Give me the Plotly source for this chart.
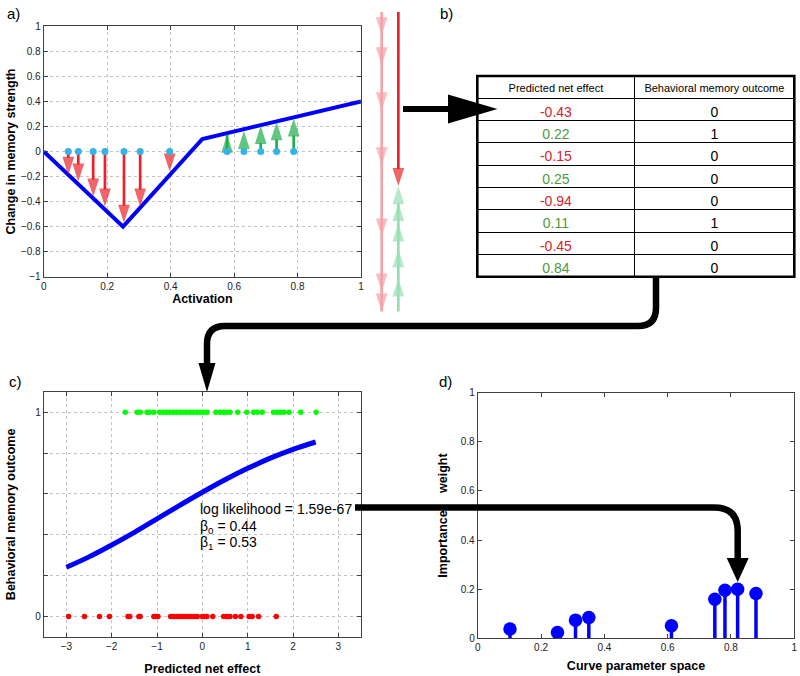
import plotly.graph_objects as go

W, H = 800, 676
FONT = "Liberation Sans, Arial, Helvetica, sans-serif"

# ---------------- Panel a data ----------------
curve_act = [0.0, 0.25, 0.5, 1.0]
curve_change = [0.0, -0.6, 0.1, 0.4]
neg_act = [0.0775, 0.109, 0.156, 0.193, 0.253, 0.304, 0.397]
neg_change = [-0.186, -0.24, -0.36, -0.44, -0.57, -0.44, -0.16]
pos_act = [0.578, 0.631, 0.684, 0.734, 0.788]
pos_change = [0.134, 0.165, 0.205, 0.235, 0.264]

# ---------------- Panel b table ----------------
table_net = [-0.43, 0.22, -0.15, 0.25, -0.94, 0.11, -0.45, 0.84]
table_outcome = [0, 1, 0, 0, 0, 1, 0, 0]
table_header = ["Predicted net effect", "Behavioral memory outcome"]

# ---------------- Panel c data ----------------
remembered_x = [-1.70, -1.44, -1.37, -1.22, -1.17, -1.07, -0.94, -0.86, -0.79, -0.72,
                -0.64, -0.57, -0.49, -0.42, -0.35, -0.27, -0.20, -0.12, -0.05, 0.02,
                0.10, 0.30, 0.39, 0.47, 0.54, 0.61, 0.78, 0.98, 1.13, 1.21,
                1.32, 1.57, 1.65, 1.72, 1.80, 1.91, 2.17, 2.51]
forgotten_x = [-2.95, -2.60, -2.27, -2.05, -1.64, -1.60, -1.40, -1.37, -1.07, -1.03,
               -0.98, -0.70, -0.64, -0.58, -0.52, -0.47, -0.41, -0.35, -0.29, -0.23,
               -0.17, -0.11, 0.0, 0.04, 0.10, 0.23, 0.47, 0.54, 0.61, 0.73,
               0.85, 1.03, 1.10, 1.24, 1.63]
fit_x = [-3.0, -2.5, -2.0, -1.5, -1.0, -0.5, 0.0, 0.5, 1.0, 1.5, 2.0, 2.5]
fit_y = [0.241, 0.292, 0.350, 0.412, 0.478, 0.544, 0.608, 0.669, 0.725, 0.775, 0.818, 0.854]
fit_text = ["log likelihood = 1.59e-67", "β<sub>0</sub> = 0.44", "β<sub>1</sub> = 0.53"]

# ---------------- Panel d data ----------------
param_x = [0.102, 0.252, 0.309, 0.351, 0.612, 0.749, 0.781, 0.821, 0.879]
weights = [0.038, 0.024, 0.074, 0.085, 0.051, 0.159, 0.196, 0.200, 0.182]

# colours
BLUE = "#0000ff"
RED = "#e8232b"
GREEN = "#1fae4b"
CYAN = "#34b3e6"
PINK = "#f5a3a8"
LGREEN = "#96dfb3"
TRED = "#d8232a"
TGREEN = "#4e9a3c"


def px(x):
    return x / W


def py(y):
    return 1 - y / H


def arrows(xs, starts, ends, head=19):
    X, Y, S, Z = [], [], [], []
    for x, a, b in zip(xs, starts, ends):
        X += [x, x, None]
        Y += [a, b, None]
        S += ["circle", "arrow", "circle"]
        Z += [0, head, 0]
    return X, Y, S, Z


fig = go.Figure()

# ---- panel a ----
fig.add_trace(go.Scatter(x=curve_act, y=curve_change, mode="lines",
                         line=dict(color=BLUE, width=4), xaxis="x", yaxis="y",
                         showlegend=False, hoverinfo="skip"))
X, Y, S, Z = arrows(neg_act, [0] * len(neg_act), neg_change)
fig.add_trace(go.Scatter(x=X, y=Y, mode="lines+markers",
                         line=dict(color=RED, width=2.7),
                         marker=dict(symbol=S, size=Z, color=RED, angleref="previous",
                                     line=dict(width=0)),
                         xaxis="x", yaxis="y", showlegend=False, hoverinfo="skip"))
X, Y, S, Z = arrows(pos_act, [0] * len(pos_act), pos_change)
fig.add_trace(go.Scatter(x=X, y=Y, mode="lines+markers",
                         line=dict(color=GREEN, width=2.7),
                         marker=dict(symbol=S, size=Z, color=GREEN, angleref="previous",
                                     line=dict(width=0)),
                         xaxis="x", yaxis="y", showlegend=False, hoverinfo="skip"))
fig.add_trace(go.Scatter(x=neg_act + pos_act, y=[0] * (len(neg_act) + len(pos_act)),
                         mode="markers", marker=dict(color=CYAN, size=7),
                         xaxis="x", yaxis="y", showlegend=False, hoverinfo="skip"))

# ---- stacked column (sum of changes) ----
neg_mag = [-v for v in neg_change]
pos_mag = [v for v in pos_change]
cum = [0.0]
for v in neg_mag:
    cum.append(cum[-1] - v)
total_neg = sum(neg_mag)
total_pos = sum(pos_mag)
fig.add_trace(go.Scatter(x=[0] * len(cum), y=cum, mode="lines+markers",
                         line=dict(color=PINK, width=2.7),
                         marker=dict(symbol=["circle"] + ["arrow"] * len(neg_mag),
                                     size=[0] + [19] * len(neg_mag), color=PINK,
                                     angleref="previous", line=dict(width=0)),
                         xaxis="x2", yaxis="y2", showlegend=False, hoverinfo="skip"))
gcum = [-total_neg]
for v in sorted(pos_mag, reverse=True):
    gcum.append(gcum[-1] + v)
fig.add_trace(go.Scatter(x=[1] * len(gcum), y=gcum, mode="lines+markers",
                         line=dict(color=LGREEN, width=2.7),
                         marker=dict(symbol=["circle"] + ["arrow"] * len(pos_mag),
                                     size=[0] + [19] * len(pos_mag), color=LGREEN,
                                     angleref="previous", line=dict(width=0)),
                         xaxis="x2", yaxis="y2", showlegend=False, hoverinfo="skip"))
fig.add_trace(go.Scatter(x=[1, 1], y=[0, -(total_neg - total_pos)], mode="lines+markers",
                         line=dict(color=RED, width=2.7),
                         marker=dict(symbol=["circle", "arrow"], size=[0, 19], color=RED,
                                     angleref="previous", line=dict(width=0)),
                         xaxis="x2", yaxis="y2", showlegend=False, hoverinfo="skip"))

# ---- table ----
net_txt = [f"{v:.2f}" for v in table_net]
net_col = [TRED if v < 0 else TGREEN for v in table_net]
fig.add_trace(go.Table(
    domain=dict(x=[px(477.3), px(794.3)], y=[py(279), py(76)]),
    columnwidth=[157.7, 160.3],
    header=dict(values=table_header, height=22.3, align="center",
                font=dict(family=FONT, size=11, color="black"),
                fill=dict(color="white"), line=dict(color="black", width=1)),
    cells=dict(values=[net_txt, [str(v) for v in table_outcome]], height=22.3,
               align="center",
               font=dict(family=FONT, size=14, color=[net_col, ["black"] * len(table_outcome)]),
               fill=dict(color="white"), line=dict(color="black", width=1)),
))

# ---- panel c ----
fig.add_trace(go.Scatter(x=remembered_x, y=[1] * len(remembered_x), mode="markers",
                         marker=dict(color="#00ff00", size=5.5),
                         xaxis="x3", yaxis="y3", showlegend=False, hoverinfo="skip"))
fig.add_trace(go.Scatter(x=forgotten_x, y=[0] * len(forgotten_x), mode="markers",
                         marker=dict(color="#ff0000", size=5.5),
                         xaxis="x3", yaxis="y3", showlegend=False, hoverinfo="skip"))
fig.add_trace(go.Scatter(x=fit_x, y=fit_y, mode="lines",
                         line=dict(color=BLUE, width=5, shape="spline"),
                         xaxis="x3", yaxis="y3", showlegend=False, hoverinfo="skip"))

# ---- panel d ----
sx, sy = [], []
for x, w in zip(param_x, weights):
    sx += [x, x, None]
    sy += [0, w, None]
fig.add_trace(go.Scatter(x=sx, y=sy, mode="lines", line=dict(color=BLUE, width=3.5),
                         xaxis="x4", yaxis="y4", showlegend=False, hoverinfo="skip"))
fig.add_trace(go.Scatter(x=param_x, y=weights, mode="markers",
                         marker=dict(color=BLUE, size=13.5),
                         xaxis="x4", yaxis="y4", showlegend=False, hoverinfo="skip"))

AX = "#404040"
base = dict(showline=True, linecolor=AX, linewidth=1, mirror="allticks", ticks="inside",
            ticklen=4, tickcolor=AX, tickfont=dict(family=FONT, size=10, color="#222"),
            zeroline=False, gridcolor="#c4c4c4", griddash="dot", gridwidth=1, fixedrange=True,
            automargin=False)
TF = dict(family=FONT, size=12.5, color="black")

fig.update_layout(
    width=W, height=H, margin=dict(l=0, r=0, t=0, b=0, autoexpand=False),
    paper_bgcolor="white", plot_bgcolor="white",
    font=dict(family=FONT, color="black"),
    xaxis=dict(base, domain=[px(43.7), px(361)], range=[0, 1], dtick=0.2, showgrid=True,
               anchor="y", title=dict(text="<b>Activation</b>", font=TF, standoff=3)),
    yaxis=dict(base, domain=[py(276.7), py(26.3)], range=[-1, 1], dtick=0.2, showgrid=True,
               anchor="x", title=dict(text="<b>Change in memory strength</b>", font=TF, standoff=2)),
    xaxis2=dict(domain=[px(370), px(410)], range=[-0.7, 1.7], visible=False, anchor="y2",
                fixedrange=True, automargin=False),
    yaxis2=dict(domain=[py(320), py(8)], range=[-2.464, 0.032], visible=False, anchor="x2",
                fixedrange=True, automargin=False),
    xaxis3=dict(base, domain=[px(43.7), px(361)], range=[-3.5, 3.5], dtick=1, showgrid=True,
                anchor="y3", title=dict(text="<b>Predicted net effect</b>", font=TF, standoff=13)),
    yaxis3=dict(base, domain=[py(637), py(391.7)], range=[-0.1, 1.1],
                tickvals=[0, 1], showgrid=True, anchor="x3",
                minor=dict(tickvals=[0.2, 0.4, 0.6, 0.8], ticks="inside", ticklen=4,
                           tickcolor=AX, showgrid=True, gridcolor="#c4c4c4", griddash="dot",
                           gridwidth=1),
                title=dict(text="<b>Behavioral memory outcome</b>", font=TF, standoff=16)),
    xaxis4=dict(base, domain=[px(477.7), px(794.3)], range=[0, 1], dtick=0.2, showgrid=False,
                anchor="y4", title=dict(text="<b>Curve parameter space</b>", font=TF, standoff=8)),
    yaxis4=dict(base, domain=[py(638.3), py(392.7)], range=[0, 1], dtick=0.2, showgrid=False,
                anchor="x4",
                title=dict(text="<b>Importance\u00a0\u00a0\u00a0\u00a0\u00a0weight</b>", font=TF,
                           standoff=10)),
)

# panel labels and fit text
labels = [("a)", 5, 13), ("b)", 438, 13), ("c)", 7, 381), ("d)", 437, 381)]
ann = []
for t, x, y in labels:
    ann.append(dict(text=t, x=px(x), y=py(y), xref="paper", yref="paper", xanchor="left",
                    yanchor="middle", showarrow=False, font=dict(family=FONT, size=15)))
for t, yv in zip(fit_text, [0.528, 0.44, 0.361]):
    ann.append(dict(text=t, x=-0.1, y=yv, xref="x3", yref="y3", xanchor="left",
                    yanchor="middle", showarrow=False, font=dict(family=FONT, size=14)))
fig.update_layout(annotations=ann)


def tri(a, b, c):
    return f"M{px(a[0]):.5f},{py(a[1]):.5f} L{px(b[0]):.5f},{py(b[1]):.5f} L{px(c[0]):.5f},{py(c[1]):.5f} Z"


shapes = [
    # table border
    dict(type="rect", xref="paper", yref="paper", x0=px(477.3), x1=px(794.3),
         y0=py(276.7), y1=py(76), line=dict(color="black", width=2.6)),
    # arrow into table
    dict(type="path", xref="paper", yref="paper",
         path=f"M{px(403):.5f},{py(109):.5f} L{px(452):.5f},{py(109):.5f}",
         line=dict(color="black", width=6)),
    dict(type="path", xref="paper", yref="paper",
         path=tri((448, 94.5), (448, 123.5), (497.5, 109)),
         fillcolor="black", line=dict(color="black", width=0)),
    # connector table -> panel c
    dict(type="path", xref="paper", yref="paper",
         path=(f"M{px(656):.5f},{py(277):.5f} L{px(656):.5f},{py(308):.5f} "
               f"Q{px(656):.5f},{py(326):.5f} {px(638):.5f},{py(326):.5f} "
               f"L{px(225):.5f},{py(326):.5f} "
               f"Q{px(207):.5f},{py(326):.5f} {px(207):.5f},{py(344):.5f} "
               f"L{px(207):.5f},{py(366):.5f}"),
         line=dict(color="black", width=6.5)),
    dict(type="path", xref="paper", yref="paper",
         path=tri((198.5, 363), (215.5, 363), (207, 392)),
         fillcolor="black", line=dict(color="black", width=0)),
    # connector panel c -> panel d
    dict(type="path", xref="paper", yref="paper",
         path=(f"M{px(355):.5f},{py(507.5):.5f} L{px(714):.5f},{py(507.5):.5f} "
               f"Q{px(737.7):.5f},{py(507.5):.5f} {px(737.7):.5f},{py(531):.5f} "
               f"L{px(737.7):.5f},{py(561):.5f}"),
         line=dict(color="black", width=6.5)),
    dict(type="path", xref="paper", yref="paper",
         path=tri((726.7, 558), (748.7, 558), (737.7, 582)),
         fillcolor="black", line=dict(color="black", width=0)),
]
fig.update_layout(shapes=shapes)

fig.write_html("out.html", config={"displayModeBar": False},
               post_script="document.body.style.margin='0px';document.body.style.padding='0px';")
